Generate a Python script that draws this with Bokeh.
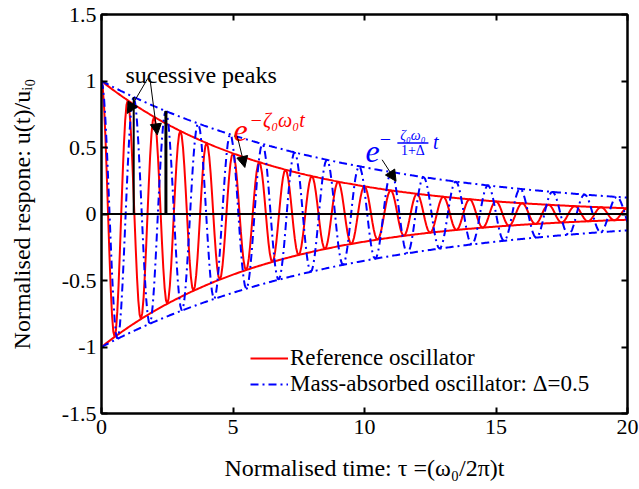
import numpy as np
from bokeh.plotting import figure
from bokeh.models import (FixedTicker, LinearAxis, Span, Arrow, NormalHead, Label,
                          Legend, ColumnDataSource, Range1d)
from bokeh.embed import file_html
from bokeh.resources import INLINE

# ---- parameters ----
zeta0 = 0.025          # damping ratio of the reference oscillator (from envelope decay)
delta = 0.5            # mass ratio (legend)
tau_max = 20.0
dtau = 0.05
peak_index = [1, 2]    # successive peaks of the mass-absorbed oscillator that are marked

x_ticks = [0, 5, 10, 15, 20]
y_ticks = [-1.5, -1.0, -0.5, 0.0, 0.5, 1.0, 1.5]
y_tick_labels = ["-1.5", "-1", "-0.5", "0", "0.5", "1", "1.5"]

FONT = "Liberation Serif"
FS = "24px"
TFS = "22px"

# ---- curves ----
tau = np.arange(0, tau_max + 1e-9, dtau)
w0 = 2 * np.pi
env_ref = np.exp(-zeta0 * w0 * tau)
env_abs = np.exp(-zeta0 * w0 * tau / (1 + delta))
u_ref = env_ref * np.cos(w0 * tau)
u_abs = env_abs * np.cos(w0 * tau / np.sqrt(1 + delta))

T_abs = np.sqrt(1 + delta)
pk_t = [k * T_abs for k in peak_index]
pk_u = [float(np.exp(-zeta0 * w0 * t / (1 + delta))) for t in pk_t]

p = figure(width=639, height=489, output_backend="svg", toolbar_location=None,
           x_range=Range1d(0, 20), y_range=Range1d(-1.5, 1.5),
           min_border_left=101, min_border_right=12, min_border_top=14, min_border_bottom=76)
p.background_fill_color = "white"
p.border_fill_color = "white"
p.outline_line_color = "black"
p.outline_line_width = 2
p.grid.visible = False

for ax in (p.xaxis[0], p.yaxis[0]):
    ax.major_tick_in = 6
    ax.major_tick_out = 0
    ax.minor_tick_line_color = None
    ax.axis_line_width = 2
    ax.major_tick_line_width = 2
    ax.major_label_text_font = FONT
    ax.major_label_text_font_size = TFS
    ax.major_label_text_color = "black"
    ax.axis_label_text_font = FONT
    ax.axis_label_text_font_size = FS
    ax.axis_label_text_font_style = "normal"
    ax.axis_label_text_color = "black"

p.xaxis.ticker = FixedTicker(ticks=x_ticks)
p.yaxis.ticker = FixedTicker(ticks=y_ticks)
p.yaxis.major_label_overrides = {v: s for v, s in zip(y_ticks, y_tick_labels)}
p.xaxis.major_label_standoff = 6
p.yaxis.major_label_standoff = 5
p.xaxis.axis_label = "Normalised time: \u03c4 =(\u03c9\u2080/2\u03c0)t"
p.yaxis.axis_label = "Normalised respone: u(t)/u\u1d62\u2080"
p.xaxis.axis_label_standoff = 18
p.yaxis.axis_label_standoff = 24

# box ticks on top and right (labels not drawn)
top = LinearAxis(ticker=FixedTicker(ticks=x_ticks), major_tick_in=6, major_tick_out=0,
                 minor_tick_line_color=None, major_label_text_font_size="1px",
                 major_label_text_color=None, axis_line_width=2, major_tick_line_width=2)
right = LinearAxis(ticker=FixedTicker(ticks=y_ticks), major_tick_in=6, major_tick_out=0,
                   minor_tick_line_color=None, major_label_text_font_size="1px",
                   major_label_text_color=None, axis_line_width=2, major_tick_line_width=2)
p.add_layout(top, "above")
p.add_layout(right, "right")

# zero line
p.add_layout(Span(location=0, dimension="width", line_color="black", line_width=2))

src = ColumnDataSource(dict(t=tau, ur=u_ref, ua=u_abs, er=env_ref, ner=-env_ref,
                            ea=env_abs, nea=-env_abs))

DASH = "8 4 2 4"
r_ref = p.line("t", "ur", source=src, line_color="#ff0000", line_width=2)
p.line("t", "er", source=src, line_color="#ff0000", line_width=2)
p.line("t", "ner", source=src, line_color="#ff0000", line_width=2)
r_abs = p.line("t", "ua", source=src, line_color="#0000ff", line_width=2, line_dash=DASH)
p.line("t", "ea", source=src, line_color="#0000ff", line_width=2, line_dash=DASH)
p.line("t", "nea", source=src, line_color="#0000ff", line_width=2, line_dash=DASH)

# vertical markers at successive peaks
p.segment(x0=pk_t, y0=[0, 0], x1=pk_t, y1=pk_u, line_color="black", line_width=[2, 3])

# legend
legend = Legend(items=[("Reference oscillator", [r_ref]),
                       ("Mass-absorbed oscillator: \u0394=0.5", [r_abs])],
                location=(149, 16), background_fill_alpha=0, border_line_color=None,
                label_text_font=FONT, label_text_font_size="23px", label_text_color="black",
                glyph_width=38, glyph_height=22, spacing=0, padding=0, margin=0,
                label_standoff=2, label_height=22)
p.add_layout(legend, "center")

# annotations
def arrow(x0, y0, x1, y1):
    p.add_layout(Arrow(end=NormalHead(size=11, fill_color="black", line_color="black"),
                       x_start=x0, y_start=y0, x_end=x1, y_end=y1,
                       line_color="black", line_width=1))

p.add_layout(Label(x=0.91, y=1.045, text="sucessive peaks", text_font=FONT,
                   text_font_size=FS, text_color="black", text_baseline="middle"))
arrow(1.76, 1.02, 0.98, 0.756)
arrow(1.84, 1.02, 2.12, 0.595)

RED = "#ff0000"
BLUE = "#0000ff"
p.add_layout(Label(x=5.02, y=0.627, text="e", text_font=FONT, text_font_size="32px",
                   text_font_style="italic", text_color=RED, text_baseline="middle"))
p.add_layout(Label(x=5.63, y=0.71, text="\u2212\u03b6\u2080\u03c9\u2080t", text_font=FONT,
                   text_font_size="20px", text_font_style="italic", text_color=RED,
                   text_baseline="middle"))
arrow(5.16, 0.587, 5.45, 0.35)

p.add_layout(Label(x=10.04, y=0.47, text="e", text_font=FONT, text_font_size="32px",
                   text_font_style="italic", text_color=BLUE, text_baseline="middle"))
p.add_layout(Label(x=10.58, y=0.565, text="\u2212", text_font=FONT, text_font_size="20px",
                   text_color=BLUE, text_baseline="middle"))
p.add_layout(Label(x=11.84, y=0.592, text="\u03b6\u2080\u03c9\u2080", text_font=FONT,
                   text_font_size="14px", text_font_style="italic", text_color=BLUE,
                   text_baseline="middle", text_align="center"))
p.add_layout(Arrow(end=None, x_start=11.25, y_start=0.533, x_end=12.43, y_end=0.533,
                   line_color=BLUE, line_width=1.5))
p.add_layout(Label(x=11.84, y=0.478, text="1+\u0394", text_font=FONT,
                   text_font_size="14px", text_color=BLUE,
                   text_baseline="middle", text_align="center"))
p.add_layout(Label(x=12.6, y=0.545, text="t", text_font=FONT, text_font_size="20px",
                   text_font_style="italic", text_color=BLUE, text_baseline="middle"))
arrow(10.67, 0.408, 11.2, 0.246)

open("out.html", "w").write(file_html(p, INLINE))
